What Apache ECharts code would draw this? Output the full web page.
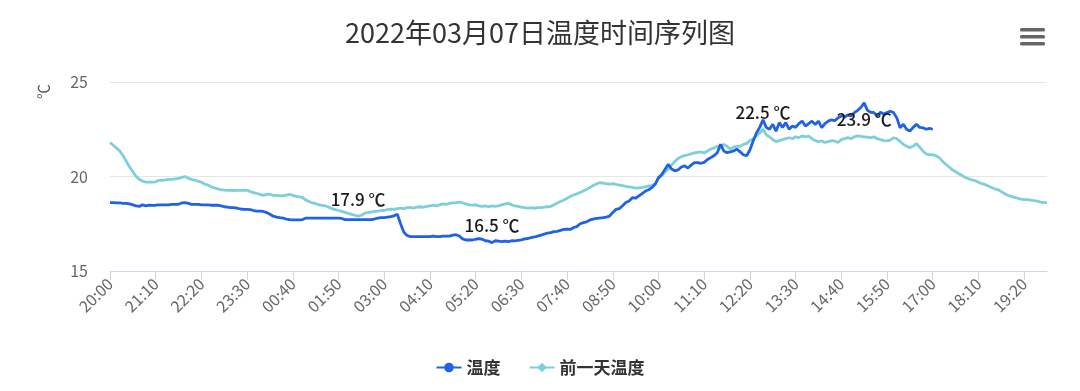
<!DOCTYPE html>
<html>
<head>
<meta charset="utf-8">
<script src="https://cdn.jsdelivr.net/npm/echarts@6/dist/echarts.min.js"></script>
<style>html,body{margin:0;padding:0;background:#fff;}#c{width:1080px;height:391px;}</style>
</head>
<body>
<div id="c"></div>
<script>
// ---- data ----
const titleText = '2022年03月07日温度时间序列图';
const seriesNames = ['温度', '前一天温度'];
const yTicks = [15, 20, 25];
const startMinutes = 20 * 60;   // 20:00
const stepMinutes = 5;
const pointCount = 288;

// 前一天温度 (previous day), 5-minute samples from 20:00
const prevTemp = [
 21.8,21.65,21.5,21.35,21.1,20.8,20.5,20.25,20.0,19.85,19.75,19.7,
 19.7,19.7,19.72,19.8,19.8,19.82,19.85,19.85,19.88,19.9,19.95,20.0,
 19.9,19.85,19.8,19.75,19.7,19.6,19.55,19.45,19.4,19.35,19.3,19.28,
 19.27,19.28,19.26,19.27,19.27,19.28,19.27,19.2,19.15,19.1,19.05,19.0,
 19.06,19.05,19.0,19.0,18.98,18.97,19.02,19.05,19.0,18.95,18.92,18.88,
 18.75,18.68,18.6,18.57,18.5,18.47,18.44,18.38,18.3,18.25,18.2,18.15,
 18.1,18.05,18.0,17.95,17.9,17.95,18.05,18.1,18.12,18.15,18.17,18.2,
 18.2,18.25,18.28,18.26,18.3,18.33,18.3,18.35,18.37,18.33,18.38,18.4,
 18.38,18.42,18.45,18.48,18.45,18.5,18.55,18.52,18.58,18.6,18.62,18.65,
 18.6,18.55,18.5,18.48,18.5,18.45,18.42,18.45,18.4,18.45,18.42,18.45,
 18.5,18.55,18.58,18.5,18.45,18.42,18.38,18.35,18.33,18.35,18.32,18.35,
 18.35,18.38,18.4,18.42,18.5,18.6,18.68,18.75,18.85,18.95,19.02,19.08,
 19.15,19.23,19.32,19.42,19.52,19.6,19.68,19.65,19.62,19.6,19.62,19.58,
 19.55,19.52,19.48,19.45,19.42,19.38,19.4,19.42,19.45,19.5,19.52,19.6,
 19.9,20.05,20.25,20.4,20.6,20.8,20.95,21.05,21.1,21.15,21.2,21.25,
 21.28,21.3,21.25,21.35,21.45,21.5,21.6,21.55,21.7,21.6,21.45,21.55,
 21.6,21.6,21.7,21.75,21.9,22.0,22.15,22.3,22.5,22.2,22.1,21.95,
 21.85,21.9,21.95,22.0,22.05,22.0,22.1,22.05,22.15,22.1,22.14,22.0,
 21.9,21.85,21.88,21.8,21.85,21.9,21.88,21.8,21.95,22.0,22.06,22.0,
 22.1,22.15,22.12,22.1,22.08,22.05,22.1,22.0,21.95,21.9,21.88,21.92,
 22.05,22.0,21.85,21.7,21.6,21.53,21.6,21.74,21.55,21.35,21.2,21.15,
 21.15,21.1,21.0,20.8,20.65,20.5,20.35,20.25,20.15,20.05,19.95,19.88,
 19.82,19.78,19.7,19.62,19.58,19.5,19.42,19.35,19.3,19.2,19.1,19.0,
 18.95,18.9,18.85,18.8,18.78,18.78,18.75,18.72,18.7,18.65,18.62,18.62
];

// 温度 (today), 5-minute samples from 20:00 until 17:00
const temp = [
 18.62,18.62,18.6,18.6,18.58,18.58,18.55,18.5,18.45,18.42,18.5,18.45,
 18.48,18.47,18.48,18.5,18.5,18.5,18.5,18.52,18.53,18.53,18.6,18.62,
 18.58,18.53,18.53,18.53,18.5,18.5,18.5,18.48,18.48,18.48,18.45,18.4,
 18.38,18.35,18.35,18.32,18.28,18.26,18.26,18.25,18.2,18.17,18.17,18.15,
 18.09,18.0,17.9,17.85,17.82,17.8,17.75,17.72,17.7,17.7,17.7,17.72,
 17.8,17.8,17.8,17.8,17.8,17.8,17.8,17.8,17.8,17.8,17.8,17.78,
 17.72,17.72,17.72,17.72,17.72,17.72,17.72,17.72,17.72,17.75,17.8,17.82,
 17.82,17.85,17.88,17.92,18.0,17.5,17.05,16.88,16.82,16.82,16.82,16.82,
 16.82,16.82,16.82,16.85,16.82,16.82,16.85,16.85,16.85,16.9,16.92,16.85,
 16.7,16.64,16.64,16.64,16.68,16.71,16.68,16.6,16.58,16.5,16.6,16.58,
 16.56,16.58,16.55,16.6,16.59,16.62,16.65,16.7,16.72,16.77,16.8,16.85,
 16.9,16.95,17.0,17.03,17.08,17.1,17.15,17.2,17.22,17.2,17.3,17.35,
 17.5,17.56,17.6,17.7,17.74,17.78,17.8,17.82,17.85,17.9,18.1,18.26,
 18.3,18.45,18.62,18.7,18.88,18.85,18.97,19.1,19.23,19.3,19.41,19.6,
 19.94,20.1,20.38,20.65,20.4,20.3,20.35,20.5,20.56,20.45,20.6,20.73,
 20.73,20.7,20.75,20.9,21.0,21.1,21.26,21.7,21.35,21.26,21.3,21.35,
 21.45,21.3,21.15,21.1,21.4,21.88,22.3,22.6,23.0,22.6,22.5,22.76,
 22.4,22.85,22.6,22.85,22.5,22.67,22.6,22.8,22.93,22.67,22.8,22.93,
 22.75,22.93,22.58,22.8,22.93,23.0,22.95,23.1,23.2,23.15,23.25,23.2,
 23.38,23.5,23.65,23.9,23.5,23.4,23.38,23.2,23.4,23.3,23.38,23.45,
 23.38,23.1,22.58,22.76,22.5,22.4,22.6,22.76,22.6,22.58,22.5,22.55,
 22.5
];

// category labels HH:MM
const categories = [];
for (let i = 0; i < pointCount; i++) {
  const m = (startMinutes + i * stepMinutes) % 1440;
  categories.push(String(Math.floor(m / 60)).padStart(2, '0') + ':' + String(m % 60).padStart(2, '0'));
}

const FONT = '"Noto Sans CJK SC", "Noto Sans", sans-serif';
const BLUE = '#1f62e6';
const CYAN = '#7dcfd9';
const fmt = p => Number(p.value).toFixed(1) + ' ℃';
const mpLabel = (pos) => ({show: true, position: pos, distance: 8, formatter: fmt, color: '#1a1a1a', fontSize: 17, fontWeight: 500, fontFamily: FONT});

const chart = echarts.init(document.getElementById('c'), null, {renderer: 'canvas'});
chart.setOption({
  animation: false,
  backgroundColor: '#fff',
  textStyle: {fontFamily: FONT},
  title: {
    text: titleText, left: 'center', top: 14,
    textStyle: {fontSize: 27, fontWeight: 'normal', color: '#333', fontFamily: FONT}
  },
  graphic: [
    {type: 'text', left: 36, top: 84, rotation: Math.PI / 2,
     style: {text: '℃', fill: '#555', font: '15px ' + FONT}},
    {type: 'group', right: 35, top: 28, children: [
      {type: 'rect', shape: {x: 0, y: 0, width: 25, height: 3.6, r: 1.5}, style: {fill: '#666'}},
      {type: 'rect', shape: {x: 0, y: 7, width: 25, height: 3.6, r: 1.5}, style: {fill: '#666'}},
      {type: 'rect', shape: {x: 0, y: 14, width: 25, height: 3.6, r: 1.5}, style: {fill: '#666'}}
    ]}
  ],
  legend: {
    bottom: 10, left: 'center', itemWidth: 25, itemHeight: 12, itemGap: 28,
    textStyle: {fontSize: 17, fontWeight: 'bold', color: '#333', fontFamily: FONT},
    data: seriesNames
  },
  grid: {left: 110, right: 33, top: 82, bottom: 120},
  xAxis: {
    type: 'category', boundaryGap: false, data: categories,
    axisLine: {lineStyle: {color: '#ccd6eb', width: 1}},
    axisTick: {show: true, interval: 13, length: 9, lineStyle: {color: '#ccd6eb'}},
    axisLabel: {interval: 13, rotate: 45, color: '#666', fontSize: 16, margin: 10, fontFamily: FONT},
    splitLine: {show: false}
  },
  yAxis: {
    type: 'value', min: yTicks[0], max: yTicks[yTicks.length - 1], interval: yTicks[1] - yTicks[0],
    axisLine: {show: false}, axisTick: {show: false},
    axisLabel: {color: '#666', fontSize: 16, margin: 22, fontFamily: FONT},
    splitLine: {lineStyle: {color: '#e6e6e6', width: 1}}
  },
  series: [
    {
      name: seriesNames[0], type: 'line', data: temp, showSymbol: false, symbol: 'circle', symbolSize: 9,
      itemStyle: {color: BLUE}, lineStyle: {color: BLUE, width: 2.8}, z: 3,
      markPoint: {
        symbol: 'circle', symbolSize: 1, itemStyle: {color: 'rgba(0,0,0,0)'},
        data: [
          {type: 'max', label: mpLabel('bottom')},
          {type: 'min', label: mpLabel('top')}
        ]
      }
    },
    {
      name: seriesNames[1], type: 'line', data: prevTemp, showSymbol: false, symbol: 'diamond', symbolSize: 10,
      itemStyle: {color: CYAN}, lineStyle: {color: CYAN, width: 2.8}, z: 2,
      markPoint: {
        symbol: 'circle', symbolSize: 1, itemStyle: {color: 'rgba(0,0,0,0)'},
        data: [
          {type: 'max', label: mpLabel('top')},
          {type: 'min', label: mpLabel('top')}
        ]
      }
    }
  ]
});
</script>
</body>
</html>
